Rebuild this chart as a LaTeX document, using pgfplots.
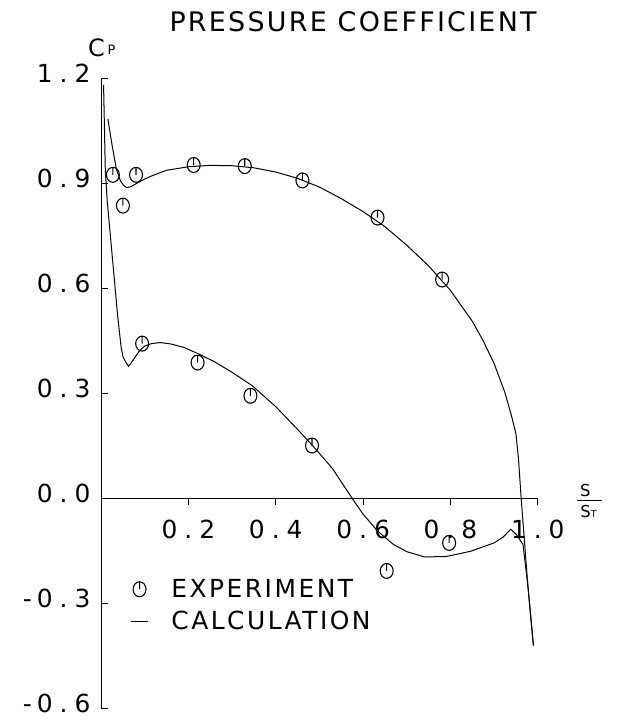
\documentclass[border=0pt]{standalone}
\usepackage{fontspec}
\usepackage{pgfplots}
\pgfplotsset{compat=1.18}

% plotter-style lettering: thin sans with wide tracking
\newfontfamily\plotfont{DejaVu Sans}[LetterSpace=10]
\newfontfamily\titlefont{DejaVu Sans}[LetterSpace=8.5]
\newcommand\dt{\kern7pt.\kern7pt}
\newcommand\mn{-\kern5pt}

% circle with a short vertical stroke from the top to the centre
\pgfdeclareplotmark{expt}{%
  \pgfpathellipse{\pgfpointorigin}{\pgfqpoint{6.5pt}{0pt}}{\pgfqpoint{0pt}{7.5pt}}%
  \pgfpathmoveto{\pgfqpoint{0pt}{7.5pt}}%
  \pgfpathlineto{\pgfqpoint{0pt}{0pt}}%
  \pgfusepathqstroke}

\begin{document}
\begin{tikzpicture}
\begin{axis}[
  scale only axis,
  width=438.5pt, height=633pt,
  xmin=0, xmax=1, ymin=-0.6, ymax=1.2,
  axis x line=middle, axis y line=left,
  axis line style={-, line width=1.1pt, black},
  xtick={0.2,0.4,0.6,0.8,1.0},
  xticklabels={0\dt2,0\dt4,0\dt6,0\dt8,1\dt0},
  ytick={-0.6,-0.3,0,0.3,0.6,0.9,1.2},
  yticklabels={\mn0\dt6,\mn0\dt3,0\dt0,0\dt3,0\dt6,0\dt9,1\dt2},
  xtick align=outside, ytick align=inside,
  major tick length=7pt,
  tick style={black, line width=1pt},
  tick label style={font=\plotfont\fontsize{25}{25}\selectfont, inner sep=0pt},
  xticklabel style={anchor=north, yshift=-14pt},
  yticklabel style={anchor=east, xshift=-10.5pt, yshift=5pt},
  clip=false,
  legend style={draw=none, fill=none, inner sep=0pt, outer sep=0pt,
    at={(axis cs:0.0675,-0.305)}, anchor=west,
    font=\plotfont\fontsize{25}{25}\selectfont, row sep=8pt,
    /tikz/every odd column/.append style={column sep=21pt}},
  legend cell align=left,
]

% measured pressure coefficient
\addplot[only marks, mark=expt, mark options={line width=1.1pt, black}] table {
s      cp
0.027  0.924
0.080  0.924
0.050  0.836
0.212  0.952
0.329  0.949
0.461  0.908
0.633  0.802
0.781  0.625
0.094  0.442
0.221  0.388
0.342  0.293
0.483  0.151
0.654 -0.207
0.797 -0.127
};
\addlegendentry{EXPERIMENT}

% calculated distribution, first surface
\addplot[black, line width=1pt] table {
s      cp
0.0155 1.084
0.025  1.010
0.035  0.940
0.045  0.905
0.052  0.893
0.058  0.888
0.066  0.889
0.075  0.895
0.085  0.902
0.100  0.912
0.118  0.922
0.150  0.937
0.200  0.947
0.250  0.951
0.300  0.950
0.350  0.944
0.400  0.932
0.450  0.914
0.500  0.889
0.550  0.856
0.600  0.819
0.650  0.776
0.700  0.723
0.750  0.664
0.800  0.594
0.850  0.506
0.875  0.450
0.900  0.385
0.924  0.305
0.940  0.235
0.950  0.185
0.956  0.110
0.962  0.000
0.970 -0.131
0.977 -0.245
0.990 -0.420
};
\addlegendentry{CALCULATION}

% calculated distribution, second surface
\addplot[black, line width=1pt, forget plot] table {
s      cp
0.0057 1.180
0.0096 0.940
0.014  0.850
0.022  0.740
0.030  0.630
0.038  0.520
0.046  0.430
0.050  0.405
0.057  0.388
0.063  0.377
0.075  0.398
0.088  0.422
0.100  0.435
0.115  0.442
0.135  0.445
0.160  0.441
0.190  0.431
0.221  0.414
0.260  0.390
0.300  0.360
0.346  0.322
0.400  0.262
0.450  0.197
0.485  0.150
0.530  0.085
0.575  0.000
0.600 -0.045
0.633 -0.093
0.669 -0.131
0.700 -0.152
0.740 -0.167
0.790 -0.166
0.846 -0.151
0.900 -0.127
0.920 -0.111
0.938 -0.088
0.951 -0.103
0.966 -0.131
0.977 -0.245
0.990 -0.420
};

% title and axis names
\node[font=\titlefont\fontsize{27}{27}\selectfont] at (axis cs:0.577,1.3614) {PRESSURE COEFFICIENT};
\node[font=\plotfont\fontsize{24}{24}\selectfont, inner sep=0pt] at (axis cs:-0.0103,1.2858) {C};
\node[font=\plotfont\fontsize{13}{13}\selectfont, inner sep=0pt] at (axis cs:0.024,1.281) {P};
\node[font=\plotfont\fontsize{16.5}{16.5}\selectfont, inner sep=0pt] at (axis cs:1.109,0.0227) {S};
\node[font=\plotfont\fontsize{16.5}{16.5}\selectfont, inner sep=0pt] at (axis cs:1.116,-0.0384) {S{\fontsize{9.5}{9.5}\selectfont T}};
\draw[line width=1pt] (axis cs:1.0895,-0.0063) -- (axis cs:1.1477,-0.0063);

% picture frame
\path (axis cs:-0.2315,-0.6327) rectangle (axis cs:1.1815,1.4232);
\end{axis}
\end{tikzpicture}
\end{document}
